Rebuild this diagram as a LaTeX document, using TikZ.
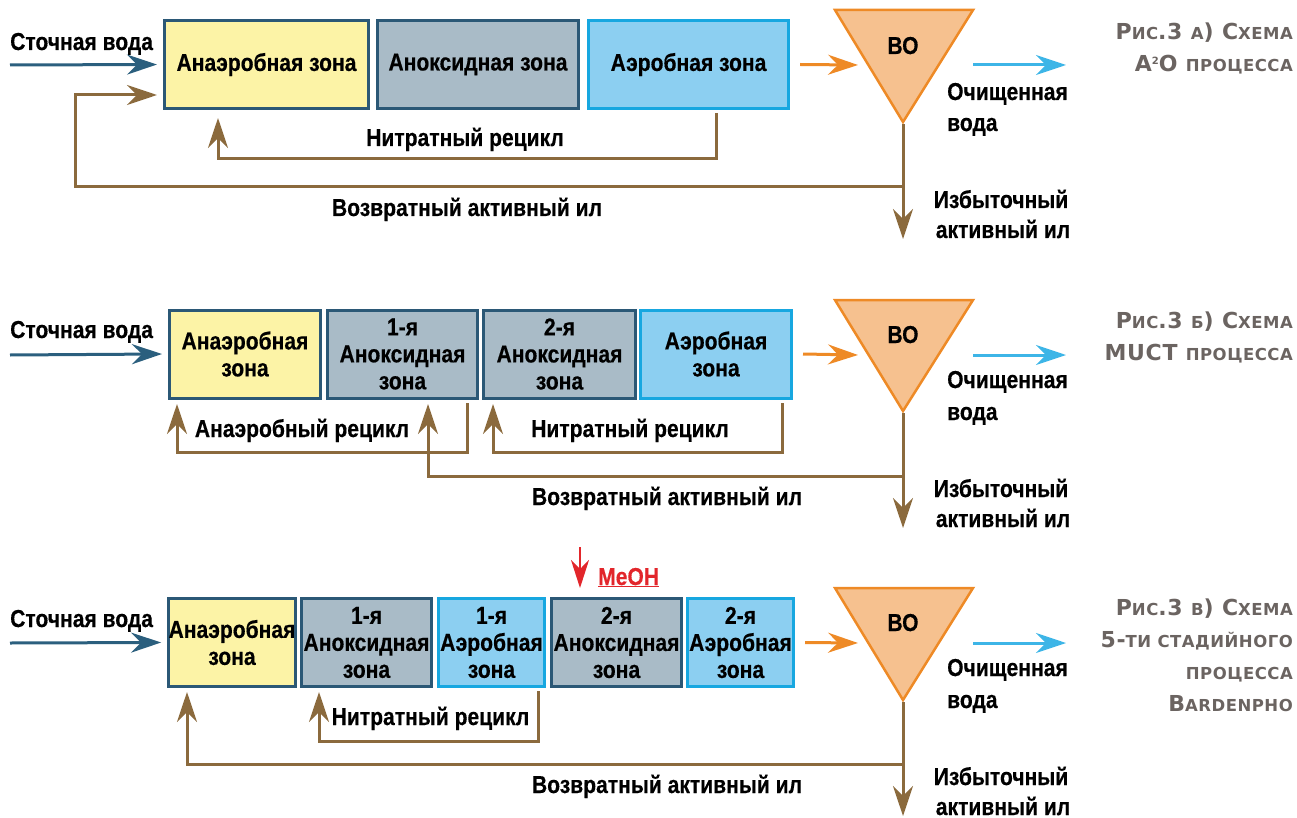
\documentclass[tikz,border=0pt]{standalone}
\usepackage{fontspec}
\setmainfont[FakeStretch=0.86, BoldFeatures={FakeBold=0.4}]{Liberation Sans}
\newfontfamily\capfont[LetterSpace=3]{DejaVu Sans}
\usetikzlibrary{arrows.meta}
\definecolor{cdark}{HTML}{2B5876}
\definecolor{cline}{HTML}{2B5F7E}
\definecolor{cyel}{HTML}{FCF3A6}
\definecolor{cgrey}{HTML}{A9BBC7}
\definecolor{clblue}{HTML}{8CCFF1}
\definecolor{cbright}{HTML}{17A7E0}
\definecolor{corange}{HTML}{EE8A26}
\definecolor{ctri}{HTML}{F6C18F}
\definecolor{ccyan}{HTML}{3DB5E7}
\definecolor{cbrown}{HTML}{8B6A3D}
\definecolor{cred}{HTML}{E2262B}
\definecolor{ccap}{HTML}{6B6461}
\newcommand\Sm[1]{{\fontsize{16.5}{16.5}\selectfont #1}}
\tikzset{
  x=1pt, y=-1pt,
  lbl/.style={font=\fontsize{24.5}{27}\selectfont\bfseries, inner sep=0pt, text=black},
  zone/.style={lbl, draw=cdark, line width=3pt, minimum height=88pt, align=center},
  yel/.style={zone, fill=cyel},
  gry/.style={zone, fill=cgrey},
  aer/.style={zone, fill=clblue, draw=cbright},
  tri/.style={draw=corange, fill=ctri, line width=2.5pt, line join=miter},
  tipB/.tip={Stealth[length=30pt,width=20pt,inset=10pt]},
  inarr/.style={draw=cline, line width=3pt, -tipB},
  orarr/.style={draw=corange, line width=3pt, -tipB},
  cyarr/.style={draw=ccyan, line width=3pt, -tipB},
  br/.style={draw=cbrown, line width=3pt, -tipB},
  captxt/.style={font=\capfont\bfseries\fontsize{22}{22}\selectfont, text=ccap, inner sep=0pt, anchor=base east},
}
\begin{document}
\begin{tikzpicture}
\useasboundingbox (0,0) rectangle (1297,818);

% ================= Row 1 =================
\node[lbl, anchor=base west] (sv1) at (10,50) {Сточная вода};
\coordinate (in1) at (10,65);
\node[yel, minimum width=204pt] (a1) at (266.5,64.5) {Анаэробная зона};
\node[gry, minimum width=201pt] (a2) at (478,64.5) {Аноксидная зона};
\node[aer, minimum width=200pt] (a3) at (688.5,64.5) {Аэробная зона};
\coordinate (t1l) at (835,10);
\coordinate (t1r) at (973,10);
\coordinate (t1b) at (903,122);
\draw[tri] (t1l) -- (t1r) -- (t1b) -- cycle;
\node[lbl, anchor=base] (bo1) at (903,54) {ВО};
\draw[inarr] (in1) -- ([xshift=-6pt]a1.west);
\coordinate (t1in) at (858,65);
\draw[orarr] ([xshift=10pt]a3.east) -- (t1in);
\coordinate (o1s) at (973,65);
\coordinate (o1e) at (1066,65);
\draw[cyarr] (o1s) -- (o1e);
\node[lbl, anchor=base west] (cw1a) at (947,100) {Очищенная};
\node[lbl, anchor=base west] (cw1b) at (947,131) {вода};
\node[lbl, anchor=base] (ex1a) at (1001,208) {Избыточный};
\node[lbl, anchor=base] (ex1b) at (1003,238) {активный ил};
\coordinate (ex1) at (903,239);
\draw[br] ([yshift=-2pt]t1b) -- (ex1);
\coordinate (r1) at (903,187);
\coordinate (r1e) at (157,95);
\draw[br] (r1) -- (75,187) |- (r1e);
\coordinate (n1s) at (716,113);
\coordinate (n1e) at (218,118);
\draw[br] (n1s) -- (716,159) -| (n1e);
\node[lbl, anchor=base] (nr1) at (465,146) {Нитратный рецикл};
\node[lbl, anchor=base] (vr1) at (467,216) {Возвратный активный ил};
\node[captxt] (cp1a) at (1293,40) {Р\Sm{ИС}.3 \Sm{А}) С\Sm{ХЕМА}};
\node[captxt] (cp1b) at (1293,72) {A\raisebox{7pt}{\fontsize{10}{10}\selectfont 2}O \Sm{ПРОЦЕССА}};

% ================= Row 2 =================
\node[lbl, anchor=base west] (sv2) at (10,338) {Сточная вода};
\coordinate (in2) at (10,355);
\node[yel, minimum width=151pt] (b1) at (245,354) {Анаэробная\\зона};
\node[gry, minimum width=150pt] (b2) at (402.5,354) {1-я\\Аноксидная\\зона};
\node[gry, minimum width=152pt] (b3) at (559.5,354) {2-я\\Аноксидная\\зона};
\node[aer, minimum width=151pt] (b4) at (716,354) {Аэробная\\зона};
\coordinate (t2l) at (835,300);
\coordinate (t2r) at (973,300);
\coordinate (t2b) at (903,411);
\draw[tri] (t2l) -- (t2r) -- (t2b) -- cycle;
\node[lbl, anchor=base] (bo2) at (903,343) {ВО};
\draw[inarr] (in2) -- ([xshift=-6pt]b1.west);
\coordinate (t2in) at (858,355);
\draw[orarr] ([xshift=10pt]b4.east) -- (t2in);
\coordinate (o2s) at (973,355);
\coordinate (o2e) at (1066,355);
\draw[cyarr] (o2s) -- (o2e);
\node[lbl, anchor=base west] (cw2a) at (947,388) {Очищенная};
\node[lbl, anchor=base west] (cw2b) at (947,420) {вода};
\node[lbl, anchor=base] (ex2a) at (1001,497) {Избыточный};
\node[lbl, anchor=base] (ex2b) at (1003,527) {активный ил};
\coordinate (ex2) at (903,528);
\draw[br] ([yshift=-2pt]t2b) -- (ex2);
\coordinate (r2) at (903,476);
\coordinate (r2e) at (428,404);
\draw[br] (r2) -| (r2e);
\coordinate (an2s) at (467,403);
\coordinate (an2e) at (177,404);
\draw[br] (an2s) -- (467,452) -| (an2e);
\coordinate (n2s) at (782,403);
\coordinate (n2e) at (493,404);
\draw[br] (n2s) -- (782,452) -| (n2e);
\node[lbl, anchor=base] (ar2) at (302,437) {Анаэробный рецикл};
\node[lbl, anchor=base] (nr2) at (630,437) {Нитратный рецикл};
\node[lbl, anchor=base] (vr2) at (667,505) {Возвратный активный ил};
\node[captxt] (cp2a) at (1293,328) {Р\Sm{ИС}.3 \Sm{Б}) С\Sm{ХЕМА}};
\node[captxt] (cp2b) at (1293,360) {MUCT \Sm{ПРОЦЕССА}};

% ================= Row 3 =================
\node[lbl, anchor=base west] (sv3) at (10,627) {Сточная вода};
\coordinate (in3) at (10,643);
\node[yel, minimum width=125pt] (c1) at (232,642.5) {Анаэробная\\зона};
\node[gry, minimum width=130pt] (c2) at (366.5,642.5) {1-я\\Аноксидная\\зона};
\node[aer, minimum width=106pt] (c3) at (491.5,642.5) {1-я\\Аэробная\\зона};
\node[gry, minimum width=130pt] (c4) at (616.5,642.5) {2-я\\Аноксидная\\зона};
\node[aer, minimum width=106pt] (c5) at (740.5,642.5) {2-я\\Аэробная\\зона};
\coordinate (t3l) at (835,588);
\coordinate (t3r) at (973,588);
\coordinate (t3b) at (903,700);
\draw[tri] (t3l) -- (t3r) -- (t3b) -- cycle;
\node[lbl, anchor=base] (bo3) at (903,631) {ВО};
\draw[inarr] (in3) -- ([xshift=-6pt]c1.west);
\coordinate (t3in) at (858,643);
\draw[orarr] ([xshift=10pt]c5.east) -- (t3in);
\coordinate (o3s) at (973,643);
\coordinate (o3e) at (1066,643);
\draw[cyarr] (o3s) -- (o3e);
\node[lbl, anchor=base west] (cw3a) at (947,676) {Очищенная};
\node[lbl, anchor=base west] (cw3b) at (947,708) {вода};
\node[lbl, anchor=base] (ex3a) at (1001,785) {Избыточный};
\node[lbl, anchor=base] (ex3b) at (1003,815) {активный ил};
\coordinate (ex3) at (903,816);
\draw[br] ([yshift=-2pt]t3b) -- (ex3);
\coordinate (r3) at (903,764);
\coordinate (r3e) at (187,692);
\draw[br] (r3) -| (r3e);
\coordinate (n3s) at (538,691);
\coordinate (n3e) at (319,692);
\draw[br] (n3s) -- (538,741) -| (n3e);
\node[lbl, anchor=base] (nr3) at (430.5,725) {Нитратный рецикл};
\node[lbl, anchor=base] (vr3) at (667,793) {Возвратный активный ил};
\coordinate (m1) at (580,547);
\coordinate (m2) at (580,588);
\draw[draw=cred, line width=2pt, -{Stealth[length=28pt,width=18pt,inset=9pt]}] (m1) -- (m2);
\node[lbl, text=cred, anchor=base west] (meoh) at (598,585) {\underline{MeOH}};
\node[captxt] (cp3a) at (1293,615) {Р\Sm{ИС}.3 \Sm{В}) С\Sm{ХЕМА}};
\node[captxt] (cp3b) at (1293,647) {5-\Sm{ТИ СТАДИЙНОГО}};
\node[captxt] (cp3c) at (1293,679) {\Sm{ПРОЦЕССА}};
\node[captxt] (cp3d) at (1293,711) {B\Sm{ARDENPHO}};
\end{tikzpicture}
\end{document}
